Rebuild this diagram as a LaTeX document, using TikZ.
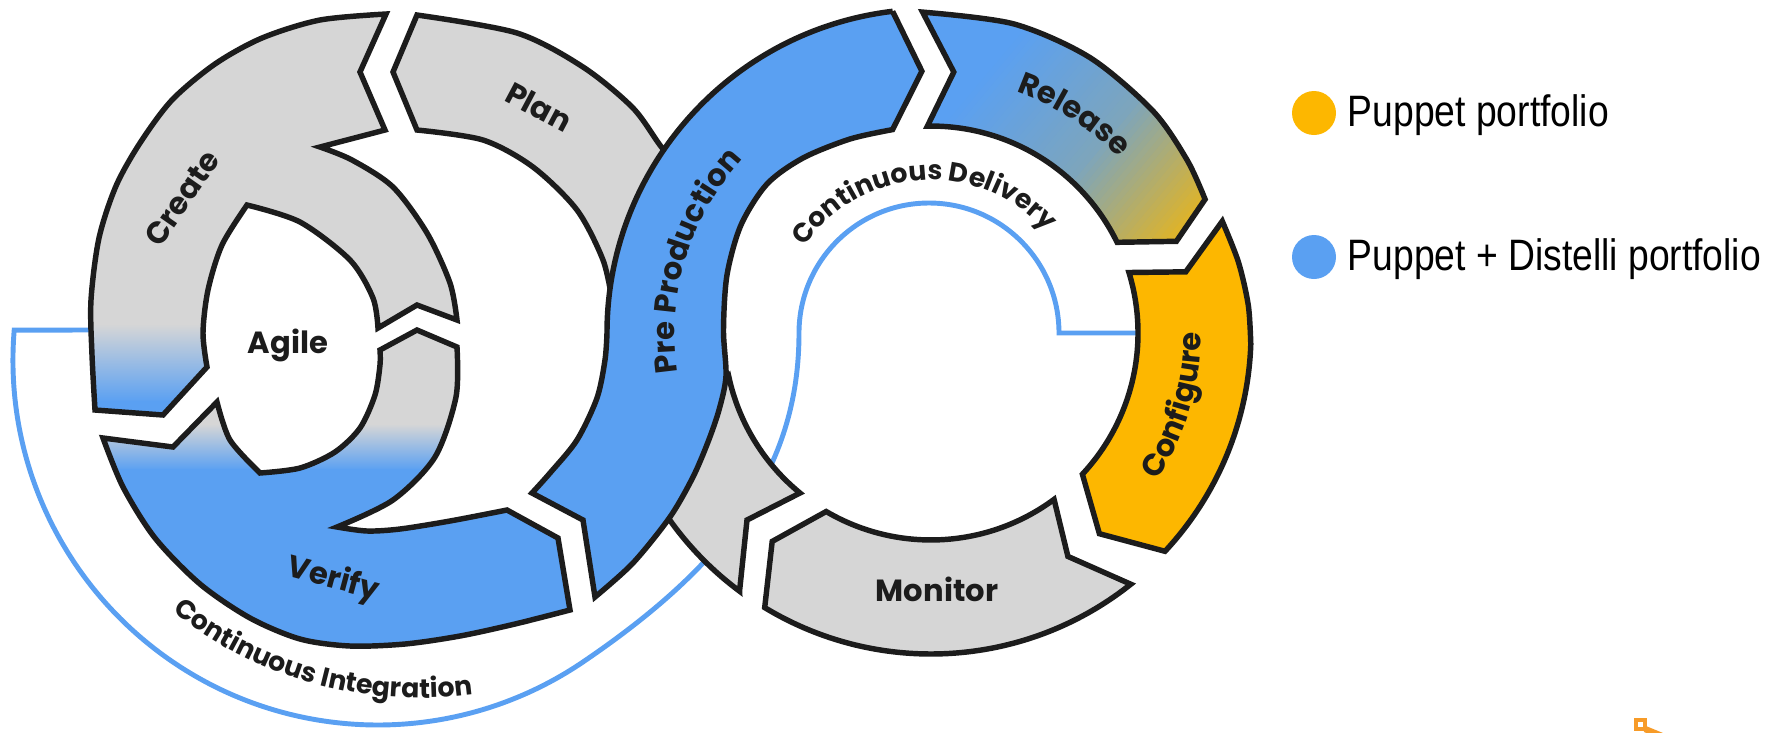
\documentclass[tikz,border=0pt]{standalone}
\usepackage{fontspec}
\usetikzlibrary{decorations.text}
\newfontfamily\popfont{Poppins}
\newfontfamily\legfont{Liberation Sans}
\newcommand\mylabfont{\popfont\bfseries\fontsize{8.7}{10}\selectfont}
\newcommand\mysmallfont{\popfont\bfseries\fontsize{7.6}{9}\selectfont}
\definecolor{pgrey}{RGB}{214,214,214}
\definecolor{pblue}{RGB}{90,160,242}
\definecolor{porange}{RGB}{253,183,0}
\definecolor{outl}{RGB}{28,28,28}
\definecolor{relmid}{RGB}{125,165,188}
\definecolor{relend}{RGB}{238,182,18}
\definecolor{iconor}{RGB}{247,155,40}
\begin{document}
\begin{tikzpicture}[x=0.01cm,y=-0.01cm,
  piece/.style={draw=outl, line width=1.55pt, line join=miter, miter limit=4},
  lab/.style={font=\mylabfont, text=outl, inner sep=0pt},
  legtext/.style={font=\legfont\fontsize{10.6}{12}\selectfont, text=black, inner sep=0pt, anchor=base west},
  flow/.style={draw=pblue, line width=1.4pt}]
\useasboundingbox (0,0) rectangle (1768,732);

% ---- blue flow line (under everything)
\draw[flow] (90,330) -- (14.2,330.1) arc[start angle=184.7, end angle=55.9, radius=365]
   .. controls (723.4,566.8) and (799,470) .. (799,333)
   arc[start angle=180, end angle=360, radius=130] -- (1141,333);

% ---- path definitions
\def\CreatePath{(95,410) -- plot[smooth] coordinates {(95,410) (92,355) (91,300) (99,238) (116,186) (140,143) (172,100) (215,64) (262,38) (320,20) (386,14)}
  -- (360,72) -- (385,130) -- (320,147)
  -- plot[smooth] coordinates {(320,147) (352,160) (393,187) (427,233) (450,283) (457,320)}
  -- (417,305) -- (378,328)
  -- plot[smooth] coordinates {(378,328) (373,298) (350,260) (300,222) (247,205)}
  -- plot[smooth] coordinates {(247,205) (222,245) (208,290) (203,333) (207,367)}
  -- (163,415) -- cycle}
\def\VerifyPath{(103,438) -- (173,447) -- (217,402)
  -- plot[smooth] coordinates {(217,402) (230,440) (260,473)}
  -- plot[smooth] coordinates {(260,473) (300,468) (335,452) (360,428) (375,395) (380,365) (380,350)}
  -- (417,330) -- (457,347)
  -- plot[smooth] coordinates {(457,347) (456,397) (435,457) (393,500) (337,527)}
  -- plot[smooth] coordinates {(337,527) (367,531) (400,529) (450,521) (507,510)}
  -- (558,538) -- (570,610)
  -- plot[smooth] coordinates {(570,610) (515,624) (460,636) (405,644) (350,646) (300,639) (250,618) (200,584) (155,538) (123,487) (103,438)}
  -- cycle}
\def\ReleasePath{(922.6,12.1) -- plot[smooth] coordinates {(922.6,12.1) (1013.8,23.9) (1090,57.6) (1153,111) (1187.2,160.2) (1205.1,199.3)}
  -- (1176.4,241.3) -- (1117.1,242.3)
  arc[start angle=334, end angle=269, radius=207] -- (953.8,72.0) -- cycle}

% ---- Create
\begin{scope}
  \clip \CreatePath;
  \fill[pgrey] (0,0) rectangle (520,325);
  \shade[top color=pgrey, bottom color=pblue] (0,324) rectangle (520,402);
  \fill[pblue] (0,401) rectangle (520,470);
\end{scope}
\draw[piece] \CreatePath;

% ---- Verify
\begin{scope}
  \clip \VerifyPath;
  \fill[pgrey] (0,300) rectangle (700,425);
  \shade[top color=pgrey, bottom color=pblue] (0,424) rectangle (700,470);
  \fill[pblue] (0,469) rectangle (700,700);
\end{scope}
\draw[piece] \VerifyPath;

% ---- Plan
\draw[piece, fill=pgrey] (417,15) -- (393,72) -- (417,130)
  -- plot[smooth] coordinates {(417,130) (483,140) (533,167) (577,210) (603,260) (612,300)}
  -- (665,300) -- (690,175)
  -- plot[smooth] coordinates {(690,175) (663,149) (633,108) (583,67) (517,33) (417,15)} -- cycle;

% ---- grey crossing piece (under Pre Production)
\draw[piece, fill=pgrey] (739.6,590.7) -- (747,520) -- (800,493)
  arc[start angle=129.3, end angle=168, radius=207] -- (650,450) -- (653,494)
  arc[start angle=150, end angle=126.6, radius=321] -- cycle;

% ---- Pre Production
\draw[piece, fill=pblue] (892.6,11.3) -- (921.9,71.2) -- (892.6,129.6)
  -- plot[smooth] coordinates {(892.6,129.6) (850,139) (803,158) (767,184) (741,225) (727,275) (723.5,330) (726,376) (719,410) (708,442) (693,477) (670,517) (633,563) (595,597)}
  -- (583,520) -- (532,493)
  -- plot[smooth] coordinates {(532,493) (550,473) (577,440) (597,398) (605,360) (607,333)}
  arc[start angle=180, end angle=263.2, radius=324] -- cycle;

% ---- Release (gradient blue -> orange)
\begin{scope}
  \clip \ReleasePath;
  \begin{scope}[shift={(990,62)}, rotate=-40]
    \fill[pblue] (-500,-500) rectangle (1,500);
    \foreach \i in {0,...,24}{
      \pgfmathtruncatemacro\q{\i*4}
      \fill[relmid!\q!pblue] ({\i*5.4},-500) rectangle ({\i*5.4+6.2},500);
    }
    \foreach \i in {0,...,24}{
      \pgfmathtruncatemacro\q{\i*4}
      \fill[relend!\q!relmid] ({135+\i*5.4},-500) rectangle ({135+\i*5.4+6.2},500);
    }
    \fill[relend] (269,-500) rectangle (800,500);
  \end{scope}
\end{scope}
\draw[piece] \ReleasePath;

% ---- Configure
\draw[piece, fill=porange] (1222.3,221.2)
  -- plot[smooth] coordinates {(1222.3,221.2) (1238.4,262) (1248.3,305.2) (1250.8,344.2)}
  arc[start angle=2, end angle=43, radius=320]
  -- (1099.4,533.7) -- (1082.4,474.2) arc[start angle=43, end angle=-17, radius=207]
  -- (1185.8,271.8) -- cycle;

% ---- Monitor
\draw[piece, fill=pgrey] (1130.8,584.2) arc[start angle=51.5, end angle=121.2, radius=321]
  -- (772.2,541.4) -- (826.2,511.5) arc[start angle=120.4, end angle=53.5, radius=207]
  -- (1067.9,556.4) -- cycle;

% ---- straight labels
\node[lab, rotate=55] (create) at (182,198) {Create};
\node[lab, rotate=-28] (plan) at (539,107) {Plan};
\node[lab] (agile) at (288,345) {Agile};
\node[lab, rotate=-15] (verify) at (333,580) {Verify};
\node[lab] (monitor) at (937,589) {Monitor};

% ---- curved labels
\path[decorate, decoration={text along path, text={|\mylabfont|Pre Production}, text align=center, text color=outl}]
  (695.4,433.0) arc[start angle=157, end angle=237, radius=256];
\path[decorate, decoration={text along path, text={|\mylabfont|Release}, text align=center, text color=outl}]
  (900.7,78.8) arc[start angle=263.2, end angle=343.2, radius=256];
\path[decorate, decoration={text along path, text={|\mylabfont|Configure}, text align=center, text color=outl}]
  (1080.0,558.2) arc[start angle=56.5, end angle=-23.5, radius=270];
\path[decorate, decoration={text along path, text={|\mysmallfont|Continuous Delivery}, text align=center, text color=outl}]
  (794.1,264.7) arc[start angle=206.5, end angle=326.5, radius=153];
\path[decorate, decoration={text along path, text={|\mysmallfont|Continuous Integration}, text align=center, text color=outl}]
  (136.6,579.5) arc[start angle=135.4, end angle=75.4, radius=398];

% ---- legend
\fill[porange] (1314,113) circle[radius=22];
\fill[pblue] (1314,257) circle[radius=22];
\node[legtext] (leg1) at (1347,126) {\scalebox{1}[1.18]{Puppet portfolio}};
\node[legtext] (leg2) at (1347,270) {\scalebox{1}[1.18]{Puppet + Distelli portfolio}};

% ---- small corner icon
\draw[iconor, line width=1.4pt] (1636,720) rectangle (1645,729);
\draw[iconor, line width=1.8pt] (1645,729) -- (1662,736);
\end{tikzpicture}
\end{document}
